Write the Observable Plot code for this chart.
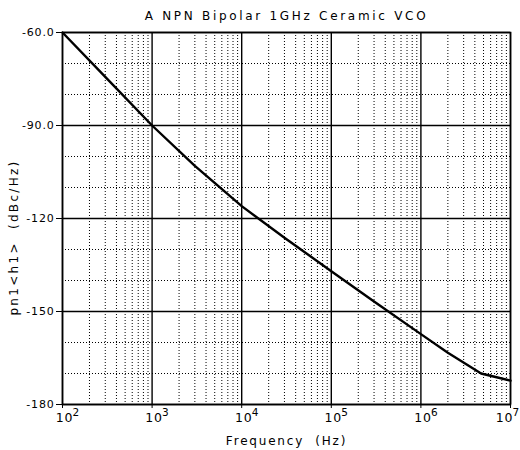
<!DOCTYPE html>
<html><head><meta charset="utf-8">
<script src="https://cdn.jsdelivr.net/npm/d3@7"></script>
<script src="https://cdn.jsdelivr.net/npm/@observablehq/plot@0.6"></script>
<style>
body{margin:0;background:#fff;}
svg text{letter-spacing:0.8px;}
g[aria-description="title"] text{letter-spacing:2.7px;}
g[aria-description="xlabel"] text{letter-spacing:1.8px;}
g[aria-description="ylabel"] text{letter-spacing:2.3px;}
</style>
</head><body><div id="chart"></div>
<script>
// Data
const freq = [100, 300, 1000, 3000, 10000, 30000, 100000, 300000, 1000000, 2000000, 4700000, 7000000, 10000000];
const pn   = [-60, -74.3, -90, -103, -116, -126.2, -137, -146.8, -157.3, -163.3, -170, -171.2, -172.3];

// Axis ticks
const xDecades = [1e2, 1e3, 1e4, 1e5, 1e6, 1e7];
const xExponents = ["2", "3", "4", "5", "6", "7"];
const minorMultipliers = [2, 3, 4, 5, 6, 7, 8, 9];
const yTicks = [-60, -90, -120, -150, -180];
const yTickLabels = ["-60.0", "-90.0", "-120", "-150", "-180"];
const yMinor = [-70, -80, -100, -110, -130, -140, -160, -170];

const title = "A NPN Bipolar 1GHz Ceramic VCO";
const xLabel = "Frequency  (Hz)";
const yLabel = "pn1<h1>  (dBc/Hz)";

const data = freq.map((f, i) => ({f, v: pn[i]}));
const xMinor = xDecades.slice(0, -1).flatMap(d => minorMultipliers.map(m => d * m));
const yLabelMap = new Map(yTicks.map((t, i) => [t, yTickLabels[i]]));
const decadeLabels = xDecades.map((d, i) => ({d, e: xExponents[i]}));
const innerLabels = decadeLabels.slice(0, -1);
const lastLabel = decadeLabels.slice(-1); // nudged left so it stays inside the picture

const tenOpts = {x: "d", frameAnchor: "bottom", lineAnchor: "middle", dy: 13, text: () => "10", fontSize: 12.5};
const expOpts = {x: "d", frameAnchor: "bottom", lineAnchor: "middle", dy: 8, textAnchor: "start", text: "e", fontSize: 10.5};

const chart = Plot.plot({
  width: 520,
  height: 450,
  marginTop: 32,
  marginLeft: 62,
  marginRight: 10,
  marginBottom: 46,
  style: {fontFamily: "DejaVu Sans", fontSize: "11px", color: "#000", background: "#fff"},
  x: {type: "log", domain: [1e2, 1e7], axis: null},
  y: {domain: [-180, -60], axis: null},
  marks: [
    Plot.ruleX(xMinor, {stroke: "#000", strokeWidth: 1, strokeDasharray: "1,2"}),
    Plot.ruleY(yMinor, {stroke: "#000", strokeWidth: 1, strokeDasharray: "1,2"}),
    Plot.ruleX(xDecades, {stroke: "#000", strokeWidth: 1.4}),
    Plot.ruleY(yTicks, {stroke: "#000", strokeWidth: 1.4}),
    Plot.frame({stroke: "#000", strokeWidth: 1.6}),
    Plot.axisY(yTicks, {tickSize: 6, tickPadding: 2, tickFormat: d => yLabelMap.get(d), label: null, fontSize: 11}),
    Plot.axisX(xDecades, {tickSize: 4, tickFormat: () => "", label: null}),
    Plot.text(innerLabels, {...tenOpts, dx: 2}),
    Plot.text(innerLabels, {...expOpts, dx: 10}),
    Plot.text(lastLabel, {...tenOpts, dx: -6}),
    Plot.text(lastLabel, {...expOpts, dx: 2}),
    Plot.line(data, {x: "f", y: "v", stroke: "#000", strokeWidth: 2.4}),
    Plot.text([title], {frameAnchor: "top", lineAnchor: "middle", dy: -16, fontSize: 12, ariaDescription: "title"}),
    Plot.text([xLabel], {frameAnchor: "bottom", lineAnchor: "middle", dy: 37, fontSize: 12, ariaDescription: "xlabel"}),
    Plot.text([yLabel], {frameAnchor: "left", textAnchor: "middle", lineAnchor: "middle", dx: -48, dy: 19, rotate: -90, fontSize: 12, ariaDescription: "ylabel"})
  ]
});
document.getElementById("chart").append(chart);
</script>
</body></html>
